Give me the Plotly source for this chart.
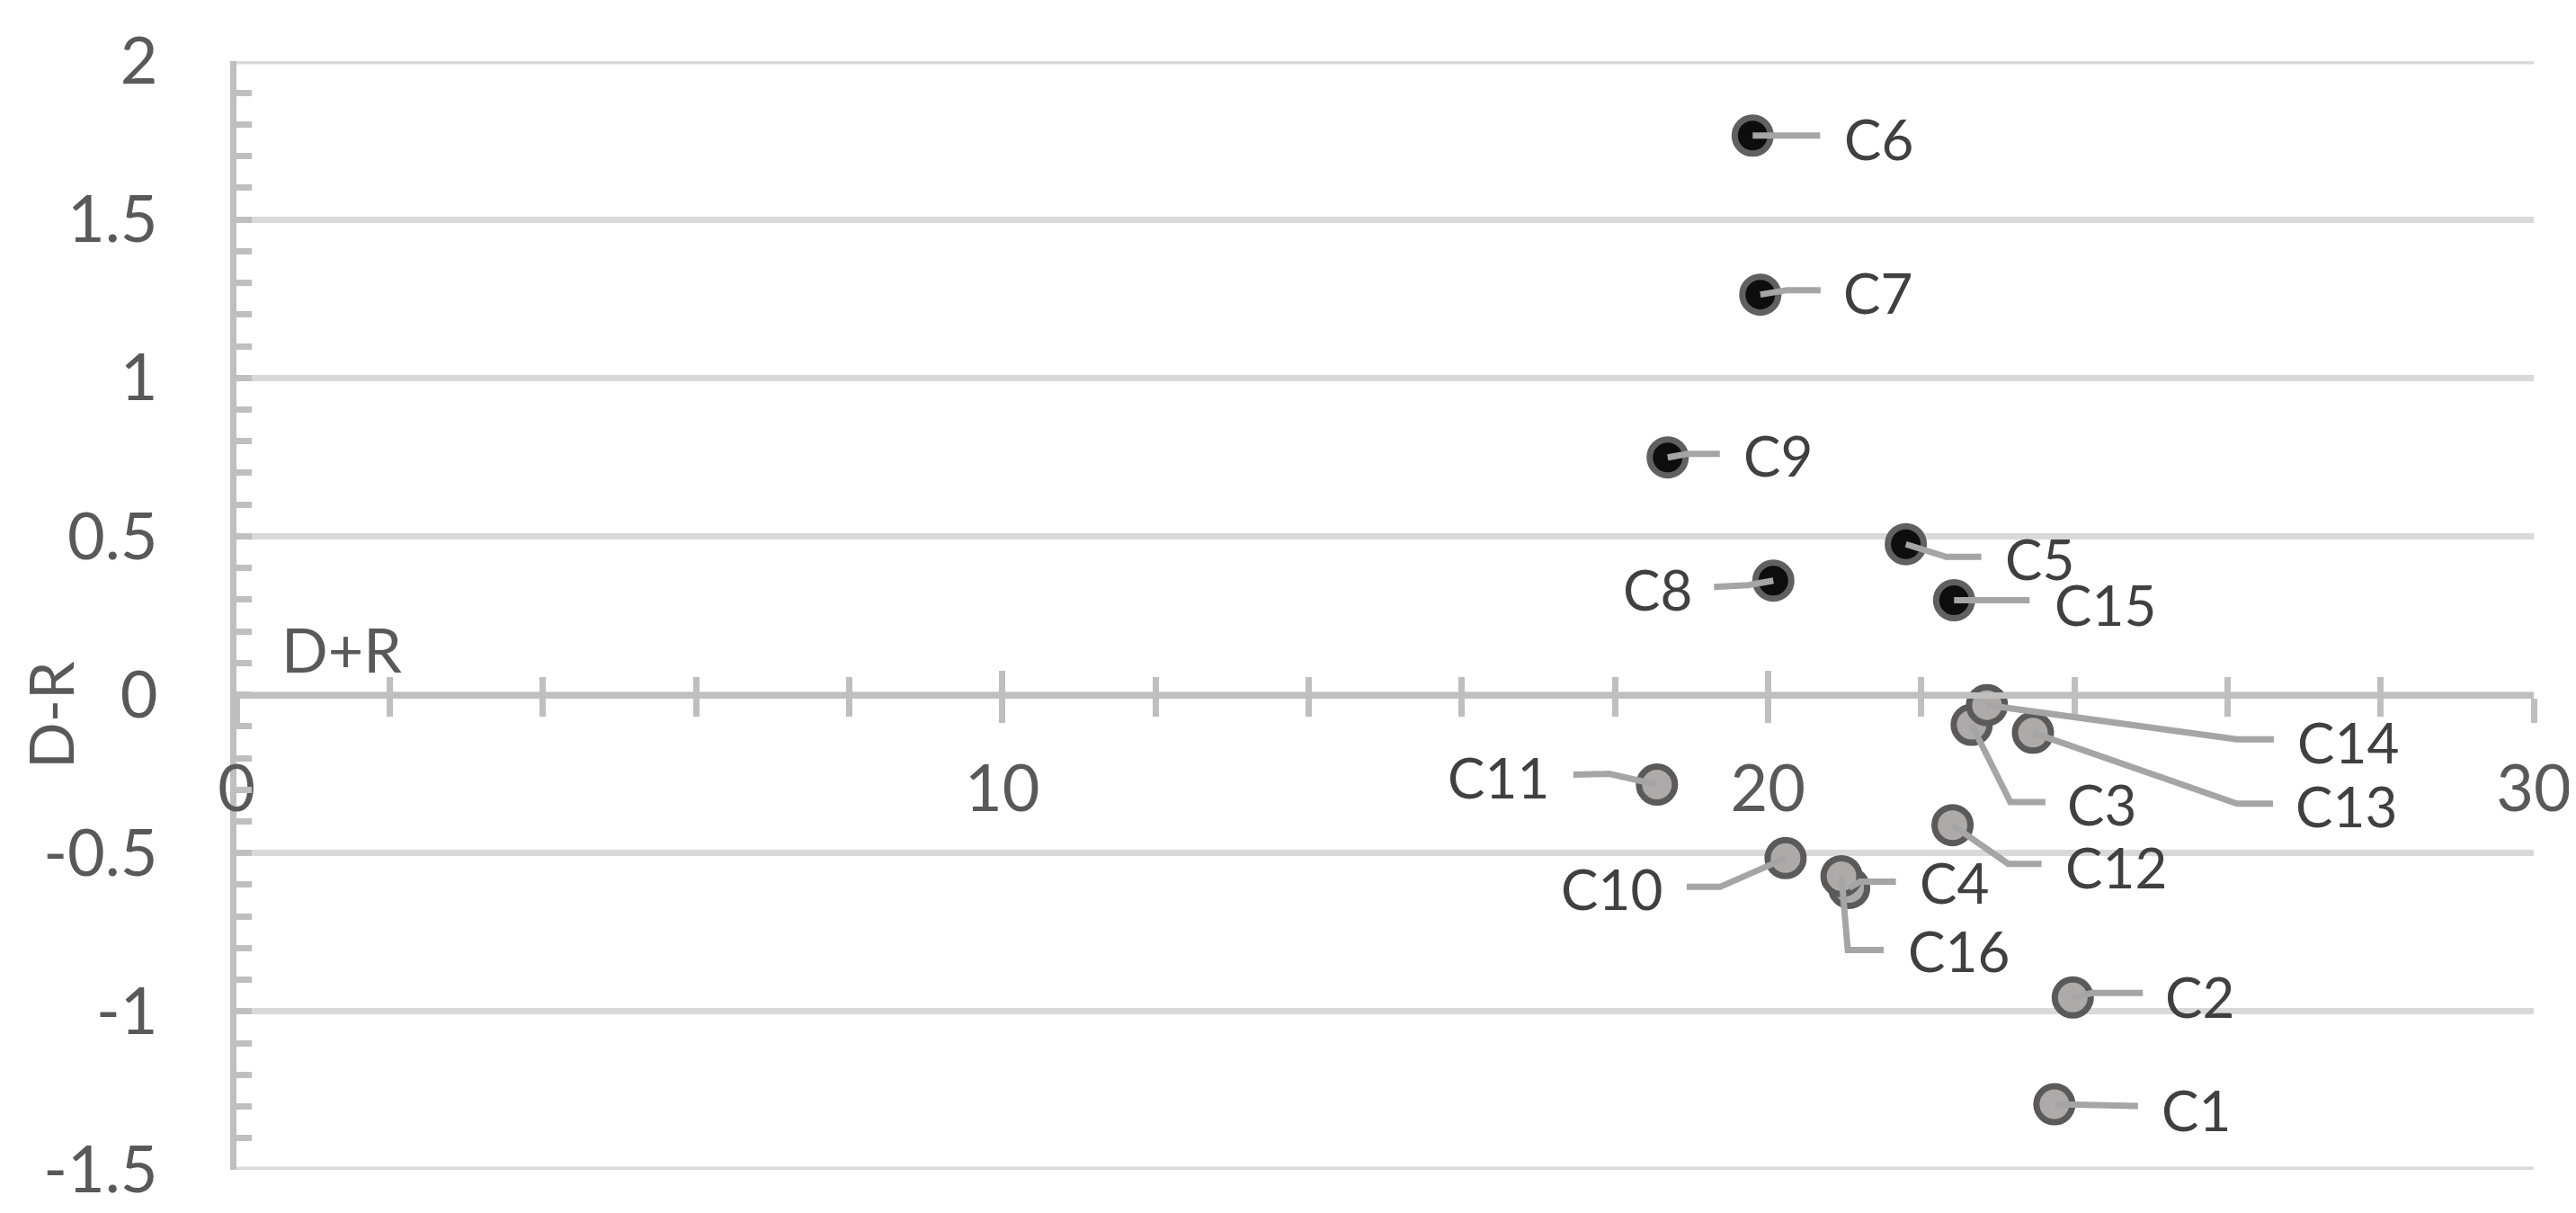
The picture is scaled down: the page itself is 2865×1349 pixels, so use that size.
import plotly.graph_objects as go

# ---------------- data ----------------
labels = ["C1", "C2", "C3", "C4", "C5", "C6", "C7", "C8",
          "C9", "C10", "C11", "C12", "C13", "C14", "C15", "C16"]
d_plus_r = [23.74, 23.98, 22.66, 21.06, 21.80, 19.80, 19.90, 20.07,
            18.69, 20.23, 18.55, 22.41, 23.46, 22.86, 22.43, 20.96]
d_minus_r = [-1.293, -0.956, -0.095, -0.610, 0.475, 1.765, 1.263, 0.360,
             0.749, -0.516, -0.284, -0.412, -0.120, -0.033, 0.298, -0.573]

x_tickvals = [0, 10, 20, 30]
x_ticktext = ["0", "10", "20", "30"]
y_tickvals = [-1.5, -1, -0.5, 0, 0.5, 1, 1.5, 2]
y_ticktext = ["-1.5", "-1", "-0.5", "0", "0.5", "1", "1.5", "2"]

# ---------------- label placement (screen px offsets from the point) ----------------
label_pos = [(158, 6), (141, -1), (145, 88), (117, -6), (149, 16), (140, 3), (131, -3), (-129, 9),
             (123, -3), (-193, 34), (-176, -9), (182, 46), (348, 81), (402, 41), (168, 4), (130, 83)]
leader_elbow = [(0, 0), (22, -5), (43, 86), (12, -7), (45, 14), (0, 0), (30, -5), (-28, 5),
                (22, -4), (-73, 32), (-53, -12), (62, 43), (227, 79), (278, 38), (0, 0), (7, 82)]
leader_end = [(93, 2), (78, -5), (82, 86), (52, -7), (84, 14), (75, 0), (67, -5), (-66, 7),
              (58, -4), (-110, 32), (-93, -11), (99, 43), (267, 79), (319, 38), (84, 0), (47, 82)]

# ---------------- layout geometry ----------------
W, H = 2865, 1349
ML, MR, MT, MB = 255, 55, 60, 56
X_RANGE = [0, 30]
Y_RANGE = [-1.5, 2]
PX = (W - ML - MR) / (X_RANGE[1] - X_RANGE[0])
PY = (H - MT - MB) / (Y_RANGE[1] - Y_RANGE[0])
axis_pos = (0 - Y_RANGE[0]) / (Y_RANGE[1] - Y_RANGE[0])

FONT = "Lato"
AXIS_COL = "#bfbfbf"
GRID_COL = "#d9d9d9"
TICK_TXT = "#595959"
LABEL_TXT = "#404040"
LEADER_COL = "#a5a5a5"

fig = go.Figure()

pos_idx = [i for i, v in enumerate(d_minus_r) if v >= 0]
neg_idx = [i for i, v in enumerate(d_minus_r) if v < 0]

fig.add_trace(go.Scatter(
    x=[d_plus_r[i] for i in pos_idx], y=[d_minus_r[i] for i in pos_idx],
    mode="markers", showlegend=False,
    marker=dict(size=40, color="#0d0d0d", line=dict(color="#606060", width=7)),
))
fig.add_trace(go.Scatter(
    x=[d_plus_r[i] for i in neg_idx], y=[d_minus_r[i] for i in neg_idx],
    mode="markers", showlegend=False,
    marker=dict(size=40, color="#adaaa9", line=dict(color="#5a5a5a", width=7)),
))
# helper trace so the overlay axis (upper halves of the crossing ticks) is drawn
fig.add_trace(go.Scatter(x=[None], y=[None], xaxis="x2", yaxis="y",
                         showlegend=False, hoverinfo="skip"))

shapes = []
# gridlines at the two ends of the value axis
for yv in (y_tickvals[0], y_tickvals[-1]):
    shapes.append(dict(type="line", xref="paper", yref="y", x0=0, x1=1, y0=yv, y1=yv,
                       layer="below", line=dict(color=GRID_COL, width=7)))

annotations = []
for i, name in enumerate(labels):
    x0, y0 = d_plus_r[i], d_minus_r[i]
    ex, ey = leader_elbow[i]
    tx, ty = leader_end[i]
    xe, ye = x0 + ex / PX, y0 - ey / PY
    xt, yt = x0 + tx / PX, y0 - ty / PY
    shapes.append(dict(type="path", xref="x", yref="y", layer="above",
                       path=f"M {x0},{y0} L {xe},{ye} L {xt},{yt}",
                       line=dict(color=LEADER_COL, width=7)))
    lx, ly = label_pos[i]
    annotations.append(dict(x=x0, y=y0, xref="x", yref="y", text=name,
                            showarrow=False, xshift=lx, yshift=-ly,
                            xanchor="center", yanchor="middle",
                            font=dict(family=FONT, size=62, color=LABEL_TXT)))

annotations.append(dict(x=(303 - ML) / (W - ML - MR), y=(H - MB - 713) / (H - MT - MB),
                        xref="paper", yref="paper", text="D+R", showarrow=False,
                        xanchor="left", yanchor="middle",
                        font=dict(family=FONT, size=68, color=TICK_TXT)))
annotations.append(dict(x=(47 - ML) / (W - ML - MR), y=(H - MB - 787) / (H - MT - MB),
                        xref="paper", yref="paper", text="D-R", showarrow=False,
                        textangle=-90, xanchor="center", yanchor="middle",
                        font=dict(family=FONT, size=68, color=TICK_TXT)))

xaxis_common = dict(range=X_RANGE, anchor="free", position=axis_pos,
                    showgrid=False, zeroline=False,
                    tickmode="array", tickvals=x_tickvals,
                    ticklen=27, tickwidth=7, tickcolor=AXIS_COL)

fig.update_layout(
    width=W, height=H,
    margin=dict(l=ML, r=MR, t=MT, b=MB),
    paper_bgcolor="white", plot_bgcolor="white",
    showlegend=False,
    xaxis=dict(**xaxis_common, ticktext=x_ticktext, ticks="outside",
               showline=True, linecolor=AXIS_COL, linewidth=7,
               minor=dict(ticks="outside", ticklen=20, tickwidth=7, tickcolor=AXIS_COL,
                          dtick=2, tick0=0, showgrid=False),
               tickfont=dict(family=FONT, size=72, color=TICK_TXT),
               ticklabelstandoff=12),
    xaxis2=dict(**xaxis_common, overlaying="x", side="bottom", ticks="inside",
                showline=False, showticklabels=False,
                minor=dict(ticks="inside", ticklen=20, tickwidth=7, tickcolor=AXIS_COL,
                           dtick=2, tick0=0, showgrid=False)),
    yaxis=dict(range=Y_RANGE, showline=True, linecolor=AXIS_COL, linewidth=7,
               showgrid=True, gridcolor=GRID_COL, gridwidth=7, zeroline=False,
               tickmode="array", tickvals=y_tickvals, ticktext=y_ticktext,
               ticks="inside", ticklen=17, tickwidth=7, tickcolor=AXIS_COL,
               minor=dict(ticks="inside", ticklen=17, tickwidth=7, tickcolor=AXIS_COL,
                          dtick=0.1, tick0=0, showgrid=False),
               tickfont=dict(family=FONT, size=72, color=TICK_TXT),
               ticklabelstandoff=66),
    shapes=shapes,
    annotations=annotations,
)

fig.write_html("out.html")
